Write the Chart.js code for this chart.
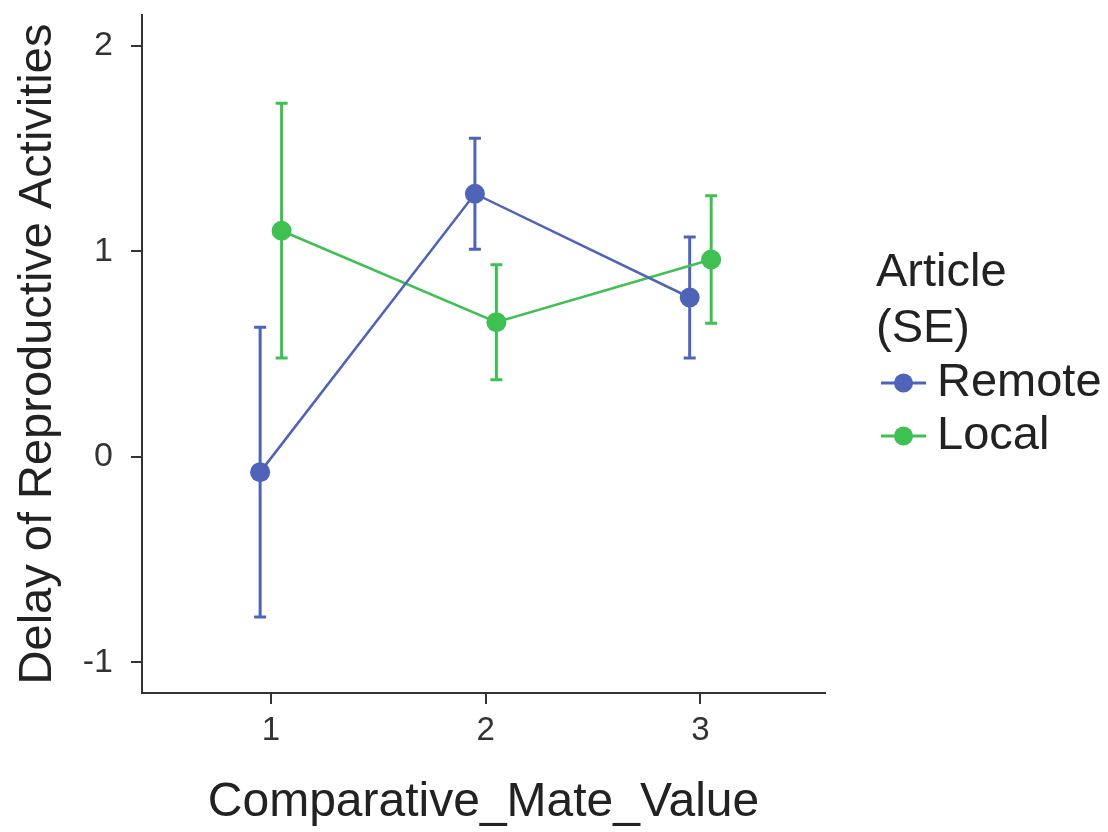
<!DOCTYPE html>
<html>
<head>
<meta charset="utf-8">
<script src="https://cdn.jsdelivr.net/npm/chart.js@4/dist/chart.umd.min.js"></script>
<style>
  html, body { margin: 0; padding: 0; background: #fff; }
  #wrap { width: 1108px; height: 832px; }
</style>
</head>
<body>
<div id="wrap"><canvas id="graph" width="1108" height="832"></canvas></div>
<script>
// data
const categories = [1, 2, 3];
const xTicks = [1, 2, 3];
const yTicks = [-1, 0, 1, 2];
const seriesNames = ["Remote", "Local"];
const remoteMean = [-0.075, 1.28, 0.775];
const remoteSE = [0.705, 0.27, 0.295];
const localMean = [1.10, 0.655, 0.96];
const localSE = [0.62, 0.28, 0.31];
const dodge = 0.05;

const blue = "#4f63b8";
const green = "#3ec152";
const axisColor = "#333";
const font = "'Liberation Sans', Arial, sans-serif";

function toPoints(means, shift) {
  return categories.map((c, i) => ({ x: c + shift, y: means[i] }));
}

// error bars (mean +/- SE) drawn through the chart's scales
const errorBars = {
  id: "errorBars",
  beforeDatasetsDraw(chart) {
    const ctx = chart.ctx;
    const xs = chart.scales.x;
    const ys = chart.scales.y;
    chart.data.datasets.forEach((ds) => {
      ctx.save();
      ctx.strokeStyle = ds.borderColor;
      ctx.lineWidth = 3;
      ds.data.forEach((p, i) => {
        const px = xs.getPixelForValue(p.x);
        const top = ys.getPixelForValue(p.y + ds.se[i]);
        const bot = ys.getPixelForValue(p.y - ds.se[i]);
        ctx.beginPath();
        ctx.moveTo(px, top);
        ctx.lineTo(px, bot);
        ctx.moveTo(px - 6, top);
        ctx.lineTo(px + 6, top);
        ctx.moveTo(px - 6, bot);
        ctx.lineTo(px + 6, bot);
        ctx.stroke();
      });
      ctx.restore();
    });
  },
};

// legend on the right: two-line title then line+dot keys
const sideLegend = {
  id: "sideLegend",
  afterDraw(chart) {
    const ctx = chart.ctx;
    ctx.save();
    ctx.fillStyle = "#222";
    ctx.font = "47px " + font;
    ctx.textBaseline = "middle";
    ctx.textAlign = "left";
    ctx.fillText("Article", 876, 273);
    ctx.fillText("(SE)", 876, 329);
    chart.data.datasets.forEach((ds, i) => {
      const y = 383 + i * 53;
      ctx.strokeStyle = ds.borderColor;
      ctx.lineWidth = 3;
      ctx.beginPath();
      ctx.moveTo(881, y);
      ctx.lineTo(926, y);
      ctx.stroke();
      ctx.fillStyle = ds.borderColor;
      ctx.beginPath();
      ctx.arc(903.5, y, 9.5, 0, Math.PI * 2);
      ctx.fill();
      ctx.fillStyle = "#222";
      ctx.fillText(ds.label, 937, y);
    });
    ctx.restore();
  },
};

const ctx = document.getElementById("graph").getContext("2d");
const chart = new Chart(ctx, {
  type: "scatter",
  data: {
    datasets: [
      {
        label: seriesNames[0],
        data: toPoints(remoteMean, -dodge),
        se: remoteSE,
        borderColor: blue,
        backgroundColor: blue,
        showLine: true,
        borderWidth: 2.5,
        pointRadius: 10,
        pointBorderWidth: 0,
      },
      {
        label: seriesNames[1],
        data: toPoints(localMean, dodge),
        se: localSE,
        borderColor: green,
        backgroundColor: green,
        showLine: true,
        borderWidth: 2.5,
        pointRadius: 10,
        pointBorderWidth: 0,
      },
    ],
  },
  options: {
    responsive: false,
    animation: false,
    layout: { padding: { top: 15, right: 283, left: 0, bottom: 0 } },
    plugins: {
      legend: { display: false },
      tooltip: { enabled: false },
    },
    scales: {
      x: {
        type: "linear",
        min: 0.4,
        max: 3.58,
        afterBuildTicks: (s) => { s.ticks = xTicks.map((v) => ({ value: v })); },
        afterFit: (s) => { s.height = 139; s.paddingLeft = 0; s.paddingRight = 0; },
        grid: { drawOnChartArea: false, drawTicks: true, tickLength: 11, color: axisColor, lineWidth: 2 },
        border: { display: true, color: axisColor, width: 2 },
        ticks: { color: "#333", font: { family: font, size: 33 }, padding: 7 },
        title: {
          display: true,
          text: "Comparative_Mate_Value",
          color: "#222",
          font: { family: font, size: 48 },
          padding: { top: 0, bottom: 0 },
        },
      },
      y: {
        min: -1.15,
        max: 2.15,
        afterBuildTicks: (s) => { s.ticks = yTicks.map((v) => ({ value: v })); },
        afterFit: (s) => { s.width = 142; s.paddingTop = 0; s.paddingBottom = 0; },
        grid: { drawOnChartArea: false, drawTicks: true, tickLength: 11, color: axisColor, lineWidth: 2 },
        border: { display: true, color: axisColor, width: 2 },
        ticks: { color: "#333", font: { family: font, size: 34 }, padding: 18 },
        title: {
          display: true,
          text: "Delay of Reproductive Activities",
          color: "#222",
          font: { family: font, size: 47 },
          padding: { top: 10, bottom: 0 },
        },
      },
    },
  },
  plugins: [errorBars, sideLegend],
});
</script>
</body>
</html>
